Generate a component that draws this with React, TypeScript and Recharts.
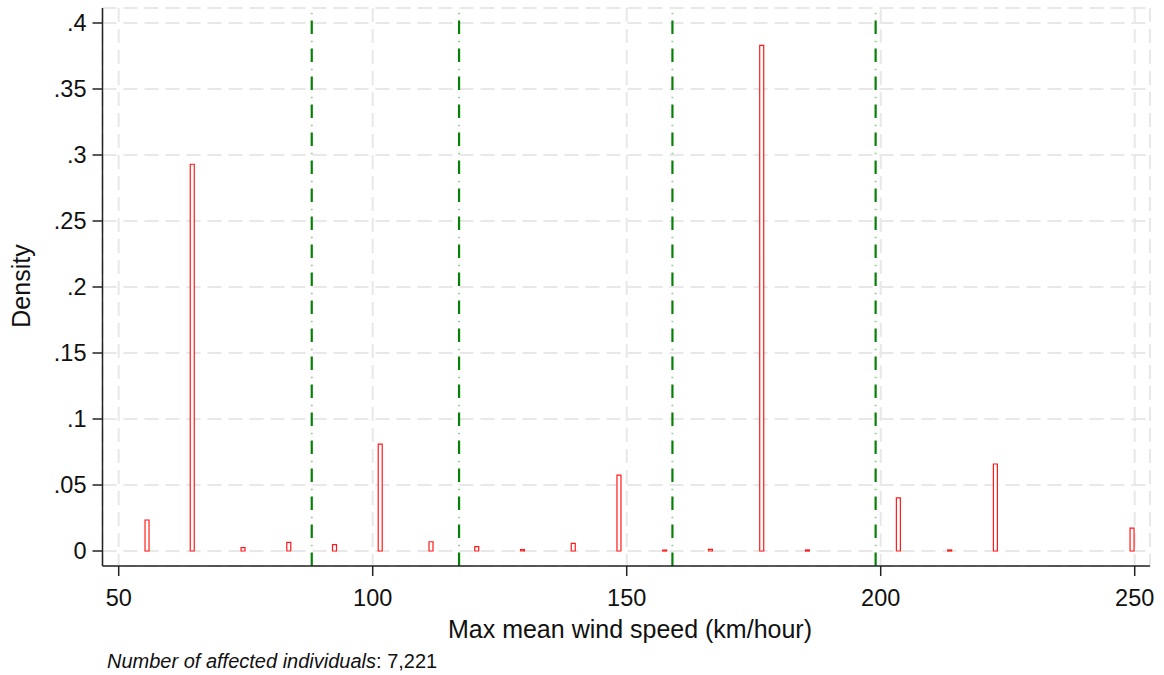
import React from "react";
import { BarChart, Bar, XAxis, YAxis, CartesianGrid, ReferenceLine } from "recharts";

// bin centres (km/hour) and density heights
const speeds = [55.5, 64.4, 74.4, 83.4, 92.4, 101.4, 111.4, 120.4, 129.4, 139.4, 148.4, 157.4, 166.4, 176.5, 185.5, 203.4, 213.5, 222.5, 249.4];
const densities = [0.0235, 0.293, 0.0025, 0.0066, 0.0048, 0.081, 0.007, 0.0033, 0.001, 0.0058, 0.0575, 0.0007, 0.0013, 0.383, 0.0008, 0.0402, 0.0008, 0.0659, 0.0174];

// category thresholds (green dashed lines)
const thresholds = [88, 117, 159, 199];

const xTicks = [50, 100, 150, 200, 250];
const yTicks = [0, 0.05, 0.1, 0.15, 0.2, 0.25, 0.3, 0.35, 0.4];
const yTickLabels = ["0", ".05", ".1", ".15", ".2", ".25", ".3", ".35", ".4"];

const xTitle = "Max mean wind speed (km/hour)";
const yTitle = "Density";
const noteLabel = "Number of affected individuals";
const noteValue = ": 7,221";

const data = speeds.map((s, i) => ({ speed: s, density: densities[i] }));

const FONT = "'Liberation Sans', Arial, sans-serif";
const AXIS_COLOR = "#222";
const GREEN = "#078007";

export default function App() {
  return (
    <div style={{ position: "absolute", left: 0, top: 0, width: 1164, height: 675, background: "#fff", fontFamily: FONT }}>
      <BarChart
        width={1164}
        height={675}
        data={data}
        margin={{ top: 8, right: 14, bottom: 49, left: 0 }}
        barCategoryGap={0}
      >
        <CartesianGrid stroke="#e8e8e8" strokeWidth={2} strokeDasharray="14 7" />
        <XAxis
          dataKey="speed"
          type="number"
          domain={[46.81, 253.01]}
          allowDataOverflow
          ticks={xTicks}
          interval={0}
          height={60}
          tickSize={10}
          tickMargin={13}
          stroke={AXIS_COLOR}
          strokeWidth={1.5}
          tick={{ fill: "#111", fontSize: 23.5, fontFamily: FONT }}
        />
        <YAxis
          type="number"
          domain={[-0.01136, 0.41136]}
          allowDataOverflow
          ticks={yTicks}
          interval={0}
          width={102.5}
          tickSize={10}
          tickMargin={6}
          stroke={AXIS_COLOR}
          strokeWidth={1.5}
          tickFormatter={(v: number) => yTickLabels[yTicks.indexOf(v)] ?? String(v)}
          tick={{ fill: "#111", fontSize: 23.5, fontFamily: FONT }}
        />
        {thresholds.map((t) => (
          <ReferenceLine key={"d" + t} x={t} stroke={GREEN} strokeWidth={2.2} strokeDasharray="13.5 14.5" />
        ))}
        {thresholds.map((t) => (
          <ReferenceLine key={"p" + t} x={t} stroke="#9acb9a" strokeWidth={2} strokeDasharray="1.5 26.5" strokeDashoffset={8.25} />
        ))}
        <Bar dataKey="density" barSize={4} fill="#fff" stroke="#ff1a1a" strokeWidth={1.2} isAnimationActive={false} />
      </BarChart>
      <svg width={1164} height={675} style={{ position: "absolute", left: 0, top: 0, pointerEvents: "none" }}>
        <text x={630} y={637.5} textAnchor="middle" fontSize={25} fontFamily={FONT} fill="#111">
          {xTitle}
        </text>
        <text x={30} y={286} textAnchor="middle" fontSize={25} fontFamily={FONT} fill="#111" transform="rotate(-90 30 286)">
          {yTitle}
        </text>
        <text x={107} y={668} fontSize={20} fontFamily={FONT} fill="#111">
          <tspan fontStyle="italic">{noteLabel}</tspan>
          <tspan>{noteValue}</tspan>
        </text>
      </svg>
    </div>
  );
}
